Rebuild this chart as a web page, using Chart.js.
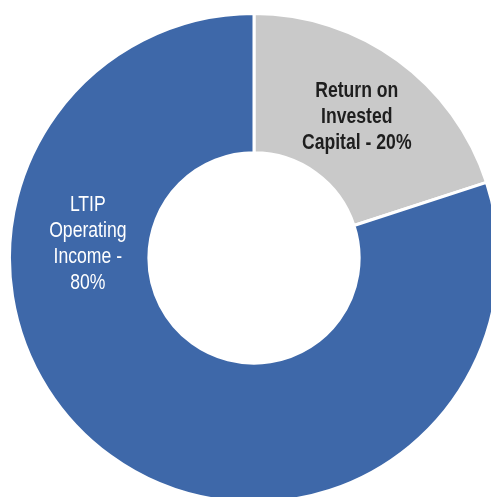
<!DOCTYPE html>
<html>
<head>
<meta charset="utf-8">
<script src="https://cdn.jsdelivr.net/npm/chart.js@4"></script>
<style>
  html, body { margin: 0; padding: 0; width: 491px; height: 497px; overflow: hidden; background: #fff; }
  #wrap { position: absolute; left: 8px; top: 12px; width: 492px; height: 492px; }
</style>
</head>
<body>
<div id="wrap"><canvas id="c" width="492" height="492"></canvas></div>
<script>
const categories = ["Return on Invested Capital", "LTIP Operating Income"];
const labelLines = [["Return on", "Invested", "Capital - 20%"], ["LTIP", "Operating", "Income -", "80%"]];
const weights = [20, 80];

const sliceLabels = {
  id: 'sliceLabels',
  afterDatasetsDraw(chart, args, opts) {
    const ctx = chart.ctx;
    const meta = chart.getDatasetMeta(0);
    meta.data.forEach((arc, i) => {
      const p = arc.getProps(['x', 'y', 'startAngle', 'endAngle', 'innerRadius', 'outerRadius'], true);
      const ang = opts.angles[i] != null ? (opts.angles[i] - 90) * Math.PI / 180 : (p.startAngle + p.endAngle) / 2;
      const r = (p.innerRadius + p.outerRadius) / 2 + opts.radialShift[i];
      const cx = p.x + Math.cos(ang) * r;
      const cy = p.y + Math.sin(ang) * r;
      const lines = labelLines[i];
      const lh = opts.lineHeight;
      ctx.save();
      ctx.font = opts.fonts[i];
      ctx.fillStyle = opts.colors[i];
      ctx.textAlign = 'center';
      ctx.textBaseline = 'middle';
      const y0 = cy - (lines.length - 1) * lh / 2;
      lines.forEach((ln, k) => {
        ctx.save();
        ctx.translate(cx, y0 + k * lh);
        ctx.scale(opts.narrow, 1);
        ctx.fillText(ln, 0, 0);
        ctx.restore();
      });
      ctx.restore();
    });
  }
};

new Chart(document.getElementById('c'), {
  type: 'doughnut',
  data: {
    labels: categories,
    datasets: [{
      data: weights,
      backgroundColor: ['#c9c9c9', '#3e68a9'],
      borderColor: '#ffffff',
      borderWidth: 3,
      hoverOffset: 0
    }]
  },
  options: {
    responsive: false,
    animation: false,
    cutout: '43%',
    rotation: 0,
    layout: { padding: 0 },
    plugins: {
      legend: { display: false },
      tooltip: { enabled: false },
      title: { display: false },
      sliceLabels: {
        angles: [null, 275],
        radialShift: [0, -8],
        lineHeight: 26,
        narrow: 0.8,
        fonts: ['bold 22px "Liberation Sans", Arial, sans-serif', '22px "Liberation Sans", Arial, sans-serif'],
        colors: ['#1e1e1e', '#ffffff']
      }
    }
  },
  plugins: [sliceLabels]
});
</script>
</body>
</html>
